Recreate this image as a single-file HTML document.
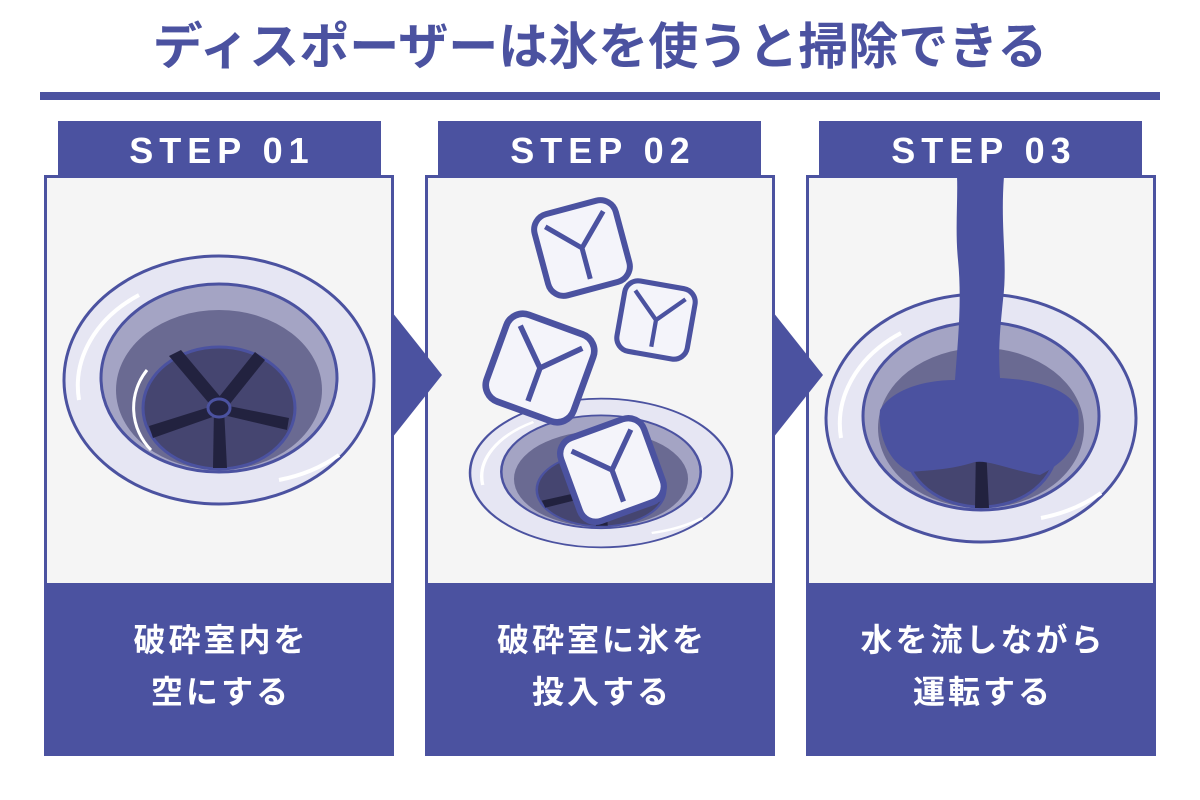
<!DOCTYPE html>
<html><head><meta charset="utf-8"><style>
body{margin:0;width:1200px;height:800px;background:#fff;overflow:hidden;font-family:"Liberation Sans","Noto Sans CJK JP",sans-serif;}
svg{position:absolute;left:0;top:0}
.t{font-family:"Liberation Sans","Noto Sans CJK JP",sans-serif;font-weight:bold}
</style></head><body>
<svg width="1200" height="800" viewBox="0 0 1200 800">
<defs>
<g id="drain">
 <ellipse cx="0" cy="0" rx="155" ry="124" fill="#e6e6f3" stroke="#4b52a0" stroke-width="3"/>
 <path d="M-140,20 A140,110 0 0 1 -80,-85" stroke="#fff" stroke-width="4" fill="none"/>
 <path d="M120,75 A140,110 0 0 1 60,100" stroke="#fff" stroke-width="4" fill="none"/>
 <ellipse cx="0" cy="-2" rx="118" ry="94" fill="#a4a4c4" stroke="#4b52a0" stroke-width="3"/>
 <ellipse cx="0" cy="10" rx="103" ry="80" fill="#6a6a92"/>
 <ellipse cx="0" cy="28" rx="76" ry="61" fill="#454570" stroke="#4b52a0" stroke-width="3"/>
</g>
<g id="wheel">
 <g fill="#22223f">
  <path d="M-6,0 L-50,-52 L-38,-58 L4,-8Z"/>
  <path d="M-4,-6 L36,-56 L46,-48 L6,2Z"/>
  <path d="M0,-4 L70,10 L68,22 L0,6Z"/>
  <path d="M-5,0 L5,0 L8,60 L-6,60Z"/>
  <path d="M0,-4 L-70,18 L-66,30 L2,6Z"/>
 </g>
 <ellipse cx="0" cy="0" rx="11" ry="9" fill="#22223f" stroke="#4b52a0" stroke-width="3"/>
</g>
<g id="cube">
 <rect x="-42" y="-42" width="84" height="84" rx="16" fill="#f4f4fa" stroke="#4b52a0" stroke-width="6"/>
 <path d="M-30,-30 L0,0 L30,-30 M0,0 L0,32" stroke="#4b52a0" stroke-width="5" fill="none"/>
</g>
</defs>
<text class="t" x="600" y="64" text-anchor="middle" font-size="50" fill="#4b52a0">ディスポーザーは氷を使うと掃除できる</text>
<rect x="40" y="92" width="1120" height="8" fill="#4b52a0"/>

<g>
 <rect x="58" y="121" width="323" height="56" fill="#4b52a0"/>
 <text class="t" x="222" y="163" text-anchor="middle" font-size="36" fill="#fff" letter-spacing="6">STEP 01</text>
 <rect x="45.5" y="176.5" width="347" height="578" fill="#f5f5f5" stroke="#4b52a0" stroke-width="3"/>
 <rect x="44" y="583" width="350" height="173" fill="#4b52a0"/>
 <text class="t" x="221" y="651" text-anchor="middle" font-size="32" fill="#fff" letter-spacing="3">破砕室内を</text>
 <text class="t" x="221" y="703" text-anchor="middle" font-size="32" fill="#fff" letter-spacing="3">空にする</text>
</g>
<g>
 <rect x="438" y="121" width="323" height="56" fill="#4b52a0"/>
 <text class="t" x="603" y="163" text-anchor="middle" font-size="36" fill="#fff" letter-spacing="6">STEP 02</text>
 <rect x="426.5" y="176.5" width="347" height="578" fill="#f5f5f5" stroke="#4b52a0" stroke-width="3"/>
 <rect x="425" y="583" width="350" height="173" fill="#4b52a0"/>
 <text class="t" x="602" y="651" text-anchor="middle" font-size="32" fill="#fff" letter-spacing="3">破砕室に氷を</text>
 <text class="t" x="602" y="703" text-anchor="middle" font-size="32" fill="#fff" letter-spacing="3">投入する</text>
</g>
<g>
 <rect x="819" y="121" width="323" height="56" fill="#4b52a0"/>
 <text class="t" x="984" y="163" text-anchor="middle" font-size="36" fill="#fff" letter-spacing="6">STEP 03</text>
 <rect x="807.5" y="176.5" width="347" height="578" fill="#f5f5f5" stroke="#4b52a0" stroke-width="3"/>
 <rect x="806" y="583" width="350" height="173" fill="#4b52a0"/>
 <text class="t" x="983" y="651" text-anchor="middle" font-size="32" fill="#fff" letter-spacing="3">水を流しながら</text>
 <text class="t" x="983" y="703" text-anchor="middle" font-size="32" fill="#fff" letter-spacing="3">運転する</text>
</g>
<path d="M392,312 L442,375 L392,438Z" fill="#4b52a0"/>
<path d="M773,312 L823,375 L773,438Z" fill="#4b52a0"/>

<g transform="translate(219,380)">
 <use href="#drain"/>
 <g transform="translate(0,28)"><use href="#wheel"/></g>
 <path d="M-72,-10 A60,60 0 0 0 -68,70" stroke="#fff" stroke-width="3" fill="none"/>
</g>

<g transform="translate(601,473) scale(0.845,0.6)">
 <use href="#drain"/>
 <g transform="translate(0,28)"><use href="#wheel"/></g>
</g>
<g transform="translate(582,248) rotate(-15)"><use href="#cube"/></g>
<g transform="translate(656,320) rotate(10) scale(0.85)"><use href="#cube"/></g>
<g transform="translate(540,368) rotate(20) scale(1.1)"><use href="#cube"/></g>
<g transform="translate(612,470) rotate(-20) scale(1.05)"><use href="#cube"/></g>

<g transform="translate(981,418)">
 <use href="#drain"/>
 <path d="M-5,28 L5,28 L8,90 L-6,90Z" fill="#22223f"/>
</g>
<path d="M957,176 L1004,176 C1000,230 1008,260 1003,300 C1000,330 998,350 1000,378 C1040,380 1070,390 1078,410 C1082,440 1070,460 1040,475 C1010,470 990,460 975,462 C950,470 930,470 910,472 C885,460 878,430 880,410 C890,392 920,380 955,380 C958,340 962,300 958,260 C955,230 958,200 957,176Z" fill="#4b52a0"/>
</svg>
</body></html>
